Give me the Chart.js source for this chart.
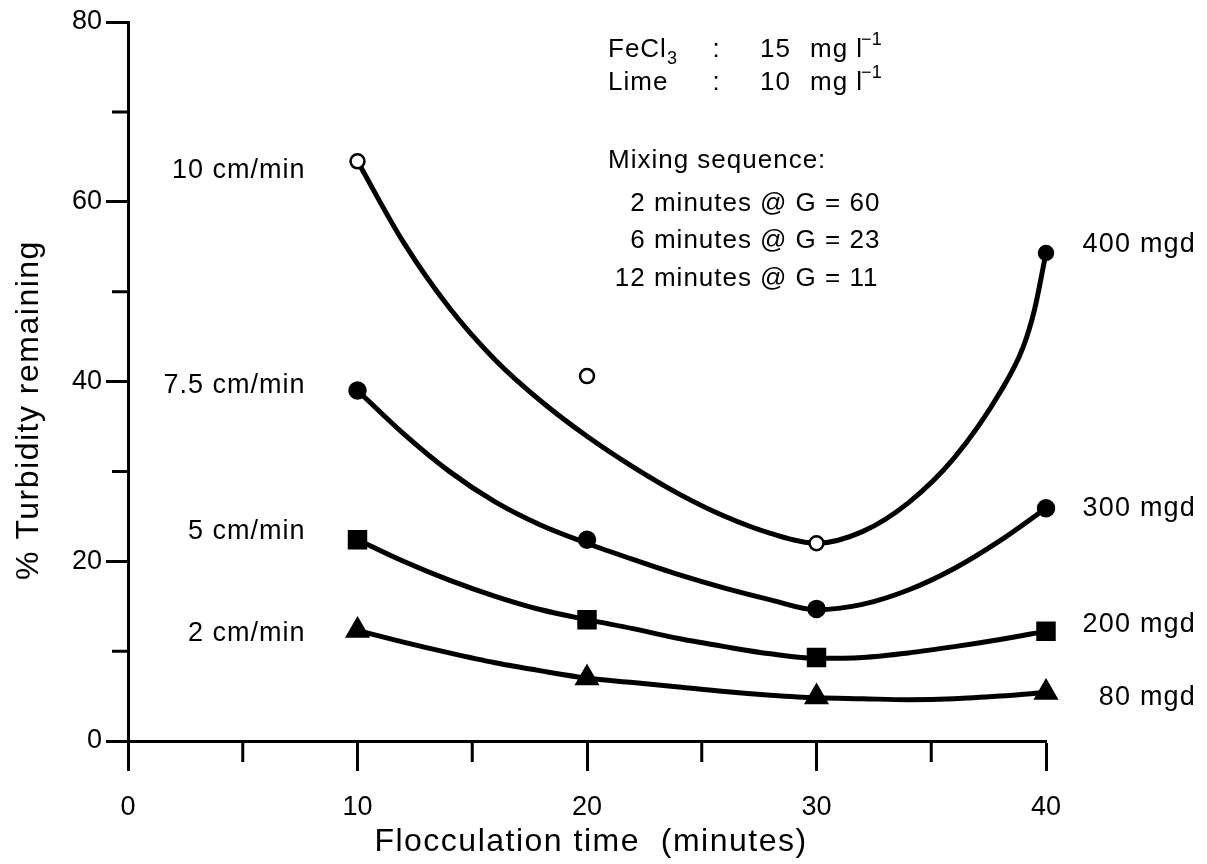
<!DOCTYPE html>
<html>
<head>
<meta charset="utf-8">
<script src="https://cdn.jsdelivr.net/npm/chart.js@4.4.1/dist/chart.umd.min.js"></script>
<style>
	html, body { margin: 0; padding: 0; background: #ffffff; }
	#turbidity { display: block; }
</style>
</head>
<body>
<canvas id="turbidity" width="1207" height="864"></canvas>
<script>
// Turbidity remaining vs flocculation time, four overflow rates

// measured points
let time_obs = [10, 20, 30, 40];
let turb_10cm = [64.5, 40.6, 22.0, 54.3];
let turb_75cm = [39.0, 22.4, 14.7, 25.9];
let turb_5cm = [22.4, 13.5, 9.3, 12.2];
let turb_2cm = [12.3, 7.0, 4.9, 5.4];

// smoothed curves drawn through the measurements
let fitX_10cm = [10, 12, 14, 16, 18, 20, 22, 24, 26, 28, 30, 32, 34, 36, 38, 39, 39.5, 40];
let fitY_10cm = [64.5, 55.5, 48.2, 42.4, 37.8, 33.9, 30.5, 27.5, 25.0, 23.1, 22.0, 23.3, 26.5, 31.5, 38.8, 43.8, 48.0, 54.3];
let fitX_rest = [10, 12, 14, 16, 18, 20, 22, 24, 26, 28, 30, 32, 34, 36, 38, 40];
let fitY_75cm = [39.0, 34.2, 30.0, 26.6, 24.0, 22.0, 20.2, 18.5, 17.0, 15.7, 14.6, 15.2, 16.8, 19.2, 22.3, 25.9];
let fitY_5cm = [22.4, 20.0, 17.9, 16.1, 14.6, 13.5, 12.5, 11.4, 10.5, 9.7, 9.2, 9.3, 9.8, 10.5, 11.3, 12.2];
let fitY_2cm = [12.3, 11.0, 9.8, 8.7, 7.8, 7.0, 6.5, 6.0, 5.5, 5.1, 4.8, 4.7, 4.6, 4.7, 5.0, 5.4];

// text
let rate_labels = ['10 cm/min', '7.5 cm/min', '5 cm/min', '2 cm/min'];
let flow_labels = ['400 mgd', '300 mgd', '200 mgd', '80 mgd'];
let mixing_steps = ['2 minutes', '6 minutes', '12 minutes'];
let mixing_G = ['@ G = 60', '@ G = 23', '@ G = 11'];
let x_title = 'Flocculation time  (minutes)';
let y_title = '% Turbidity remaining';

let FONT = '"Liberation Sans", Arial, Helvetica, sans-serif';

let toPoints = function(xs, ys) {
	let pts = [];
	for (let i = 0; i < xs.length; i++) {
		pts.push({x: xs[i], y: ys[i]});
	}
	return pts;
};

let curve = function(xs, ys) {
	return {
		data: toPoints(xs, ys),
		showLine: true,
		borderColor: '#000000',
		borderWidth: 5,
		pointRadius: 0,
		cubicInterpolationMode: 'monotone',
		order: 1,
		clip: false
	};
};

let marks = function(ys, style, radius, fill) {
	return {
		data: toPoints(time_obs, ys),
		showLine: false,
		pointStyle: style,
		pointRadius: radius,
		pointBackgroundColor: fill,
		pointBorderColor: '#000000',
		pointBorderWidth: 2.5,
		order: 0,
		clip: false
	};
};

let putText = function(ctx, str, x, y, size, align, spacing) {
	ctx.font = size + 'px ' + FONT;
	ctx.letterSpacing = spacing + 'px';
	ctx.textAlign = align;
	ctx.textBaseline = 'middle';
	ctx.fillText(str, x, y);
	return ctx.measureText(str).width;
};

// minor ticks, series labels, axis titles and the conditions box
let chartText = {
	id: 'chartText',
	afterDraw: function(chart) {
		let ctx = chart.ctx;
		let xs = chart.scales.x;
		let ys = chart.scales.y;
		ctx.save();
		ctx.fillStyle = '#000000';
		ctx.strokeStyle = '#000000';

		ctx.lineWidth = 3;
		ctx.beginPath();
		for (let v = 5; v < 40; v += 10) {
			let px = xs.getPixelForValue(v);
			ctx.moveTo(px, xs.top);
			ctx.lineTo(px, xs.top + 21);
		}
		for (let v = 10; v < 80; v += 20) {
			let py = ys.getPixelForValue(v);
			ctx.moveTo(ys.right, py);
			ctx.lineTo(ys.right - 16, py);
		}
		ctx.stroke();

		// rate labels beside the first point, flow labels beside the last
		let firsts = [turb_10cm[0], turb_75cm[0], turb_5cm[0], turb_2cm[0]];
		let lasts = [turb_10cm[3], turb_75cm[3], turb_5cm[3], turb_2cm[3]];
		let leftNudge = [9, -5, -8, 3];
		let rightNudge = [-8, 0, -7, 5];
		let xl = xs.getPixelForValue(10) - 52;
		let xr = xs.getPixelForValue(40) + 150;
		for (let i = 0; i < 4; i++) {
			putText(ctx, rate_labels[i], xl, ys.getPixelForValue(firsts[i]) + leftNudge[i], 27, 'right', 1);
			putText(ctx, flow_labels[i], xr, ys.getPixelForValue(lasts[i]) + rightNudge[i], 27, 'right', 1.2);
		}

		// dosing
		let w = putText(ctx, 'FeCl', 608, 50, 26, 'left', 1);
		putText(ctx, '3', 608 + w, 59, 18, 'left', 0);
		putText(ctx, ':', 716, 50, 26, 'center', 0);
		putText(ctx, '15', 760, 50, 26, 'left', 1);
		w = putText(ctx, 'mg l', 810, 50, 26, 'left', 1);
		putText(ctx, '\u22121', 810 + w - 2, 40, 18, 'left', 0);

		putText(ctx, 'Lime', 608, 83, 26, 'left', 1);
		putText(ctx, ':', 716, 83, 26, 'center', 0);
		putText(ctx, '10', 760, 83, 26, 'left', 1);
		w = putText(ctx, 'mg l', 810, 83, 26, 'left', 1);
		putText(ctx, '\u22121', 810 + w - 2, 73, 18, 'left', 0);

		// mixing
		putText(ctx, 'Mixing sequence:', 608, 161, 26, 'left', 1);
		let rowY = [204, 241, 279];
		for (let i = 0; i < 3; i++) {
			putText(ctx, mixing_steps[i], 752, rowY[i], 26, 'right', 1);
			putText(ctx, mixing_G[i], 760, rowY[i], 26, 'left', 1);
		}

		// axis titles
		putText(ctx, x_title, (xs.left + xs.right) / 2 + 4, 842, 32, 'center', 1.5);
		ctx.translate(29, 410);
		ctx.rotate(-Math.PI / 2);
		putText(ctx, y_title, 0, 0, 32, 'center', 1.5);

		ctx.restore();
	}
};

let $element_turbidity = document.getElementById('turbidity');
let ctx_turbidity = $element_turbidity.getContext('2d');

let turbidityChart = new Chart(ctx_turbidity, {
	type: 'scatter',
	data: {
		datasets: [
			curve(fitX_10cm, fitY_10cm),
			curve(fitX_rest, fitY_75cm),
			curve(fitX_rest, fitY_5cm),
			curve(fitX_rest, fitY_2cm),
			marks(turb_10cm, 'circle', 7, ['#ffffff', '#ffffff', '#ffffff', '#000000']),
			marks(turb_75cm, 'circle', 8, '#000000'),
			marks(turb_5cm, 'rect', 12, '#000000'),
			marks(turb_2cm, 'triangle', 12, '#000000')
		]
	},
	options: {
		responsive: false,
		animation: false,
		devicePixelRatio: 1,
		layout: {
			padding: {left: 0, right: 161, top: 22, bottom: 0}
		},
		plugins: {
			legend: {display: false},
			tooltip: {enabled: false}
		},
		scales: {
			x: {
				type: 'linear',
				min: 0,
				max: 40,
				afterFit: function(scale) { scale.height = 123; },
				border: {display: true, color: '#000000', width: 3},
				grid: {
					drawOnChartArea: false,
					tickLength: 30,
					tickWidth: 3,
					tickColor: function(c) { return c.tick && c.tick.value % 10 === 0 ? '#000000' : 'rgba(0,0,0,0)'; }
				},
				ticks: {
					stepSize: 5,
					padding: 20,
					color: '#000000',
					maxRotation: 0,
					font: {family: FONT, size: 27},
					callback: function(v) { return v % 10 === 0 ? v : ''; }
				}
			},
			y: {
				type: 'linear',
				min: 0,
				max: 80,
				afterFit: function(scale) { scale.width = 128; },
				border: {display: true, color: '#000000', width: 3},
				grid: {
					drawOnChartArea: false,
					tickLength: 22,
					tickWidth: 3,
					tickColor: function(c) { return c.tick && c.tick.value % 20 === 0 ? '#000000' : 'rgba(0,0,0,0)'; }
				},
				ticks: {
					stepSize: 10,
					padding: 4,
					color: '#000000',
					font: {family: FONT, size: 27},
					callback: function(v) { return v % 20 === 0 ? v : ''; }
				}
			}
		}
	},
	plugins: [chartText]
});
</script>
</body>
</html>
